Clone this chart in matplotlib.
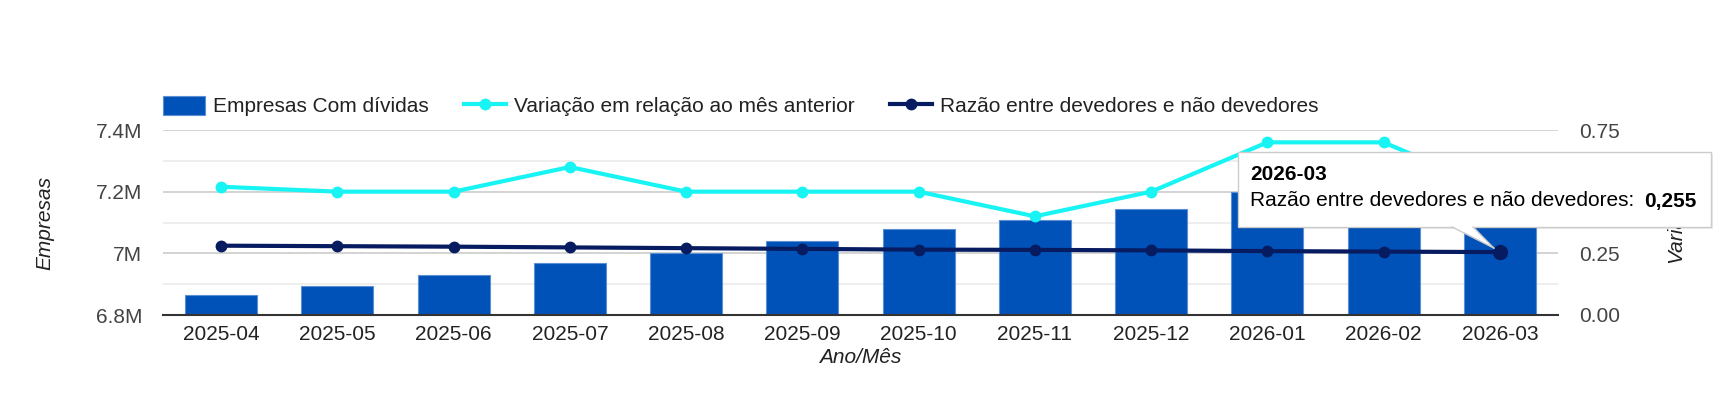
import numpy as np
import matplotlib
matplotlib.use('Agg')
import matplotlib.pyplot as plt
from matplotlib.patches import Patch, Rectangle, Polygon
from matplotlib.lines import Line2D
from matplotlib.ticker import FuncFormatter

plt.rcParams['font.family'] = ['Liberation Sans', 'DejaVu Sans']

# donnees
meses = ['2025-04', '2025-05', '2025-06', '2025-07', '2025-08', '2025-09',
         '2025-10', '2025-11', '2025-12', '2026-01', '2026-02', '2026-03']
empresas_com_dividas = [6865000, 6894000, 6929000, 6968000, 7002000, 7041000,
                        7079000, 7108000, 7144000, 7198000, 7235000, 7270000]
variacao = [0.52, 0.50, 0.50, 0.60, 0.50, 0.50, 0.50, 0.40, 0.50, 0.70, 0.70, 0.50]
razao = [0.281, 0.279, 0.277, 0.274, 0.271, 0.268, 0.265, 0.264, 0.262, 0.259, 0.257, 0.255]

cor_barra = '#0052b8'
cor_ciano = '#18f4f4'
cor_marinho = '#071c60'
fs = 15

W, H = 1729, 401
fig = plt.figure(figsize=(W / 100, H / 100), dpi=100)
ax = fig.add_axes([163 / W, 1 - 315 / H, 1395 / W, 185 / H])
ax2 = ax.twinx()

x = np.arange(len(meses))

# barres
ax.bar(x, empresas_com_dividas, width=0.62, color=cor_barra, edgecolor='#5d8fd4', linewidth=0.8, zorder=2)
ax.set_xlim(-0.5, len(meses) - 0.5)
ax.set_ylim(6.8e6, 7.4e6)
ax.set_yticks([6.8e6, 7.0e6, 7.2e6, 7.4e6])
ax.set_yticks([6.9e6, 7.1e6, 7.3e6], minor=True)
ax.yaxis.set_major_formatter(FuncFormatter(lambda v, p: ('%.1fM' % (v / 1e6)).replace('.0M', 'M')))
ax.grid(axis='y', which='major', color='#cccccc', linewidth=1.2)
ax.grid(axis='y', which='minor', color='#ebebeb', linewidth=1.2)
ax.set_axisbelow(True)
ax.set_xticks(x)
ax.set_xticklabels(meses)
ax.tick_params(axis='x', length=0, pad=7, labelsize=fs, labelcolor='#222222')
ax.tick_params(axis='y', which='both', length=0, pad=15, labelsize=fs, labelcolor='#444444')
for s in ['top', 'left', 'right']:
    ax.spines[s].set_visible(False)
ax.spines['bottom'].set_color('#333333')
ax.spines['bottom'].set_linewidth(1.5)
ax.spines['bottom'].set_zorder(3)

# lignes (axe de droite)
ax2.plot(x, variacao, color=cor_ciano, lw=3, marker='o', ms=7.5, zorder=3)
ax2.plot(x, razao, color=cor_marinho, lw=3, marker='o', ms=7.5, zorder=4)
ax2.plot(x[-1], razao[-1], marker='o', ms=10, color=cor_marinho, zorder=5)
ax2.set_ylim(0, 0.75)
ax2.set_yticks([0, 0.25, 0.5, 0.75])
ax2.yaxis.set_major_formatter(FuncFormatter(lambda v, p: '%.2f' % v))
ax2.tick_params(axis='y', length=0, pad=15, labelsize=fs, labelcolor='#444444')
for s in ['top', 'left', 'right', 'bottom']:
    ax2.spines[s].set_visible(False)

# titres des axes
ax.set_xlabel('Ano/Mês', fontsize=fs, style='italic', color='#222222')
ax.xaxis.set_label_coords(0.5, -0.232)
ax.xaxis.label.set_verticalalignment('center')
ax.set_ylabel('Empresas', fontsize=fs, style='italic', color='#222222')
ax.yaxis.set_label_coords((45 - 163) / 1395, 0.5)
ax.yaxis.label.set_verticalalignment('center')
ax2.set_ylabel('Variação', fontsize=fs, style='italic', color='#222222')
ax2.yaxis.set_label_coords((1676 - 163) / 1395, 0.5)
ax2.yaxis.label.set_verticalalignment('center')

# legende
handles = [Patch(facecolor=cor_barra, edgecolor='#5d8fd4', linewidth=0.8),
           Line2D([], [], color=cor_ciano, lw=3, marker='o', ms=7.5),
           Line2D([], [], color=cor_marinho, lw=3, marker='o', ms=7.5)]
labels = ['Empresas Com dívidas', 'Variação em relação ao mês anterior', 'Razão entre devedores e não devedores']
fig.legend(handles, labels, loc='center left', bbox_to_anchor=(163 / W, 1 - 106 / H), ncol=3,
           frameon=False, fontsize=fs, handlelength=2.0, handleheight=1.05, handletextpad=0.4,
           columnspacing=1.7, borderpad=0, borderaxespad=0, labelcolor='#222222')

# infobulle
ov = fig.add_axes([0, 0, 1, 1])
ov.set_xlim(0, W)
ov.set_ylim(H, 0)
ov.axis('off')
fig.canvas.draw()
px, py = ax2.transData.transform((x[-1], razao[-1]))
tip = (px - 6, H - py - 4)
ov.add_patch(Rectangle((1240, 154), 473, 75, facecolor='#000000', alpha=0.08, edgecolor='none', zorder=1))
ov.add_patch(Rectangle((1238, 152), 473, 75, facecolor='white', edgecolor='#cccccc', lw=1, zorder=2))
ov.add_patch(Polygon([(1452, 226.2), (1473, 226.2), tip], closed=True, facecolor='white', edgecolor='none', zorder=3))
ov.plot([1452, tip[0]], [227, tip[1]], color='#cccccc', lw=1, zorder=4)
ov.plot([1473, tip[0]], [227, tip[1]], color='#cccccc', lw=1, zorder=4)
ov.text(1250, 174, '2026-03', fontsize=fs, fontweight='bold', ha='left', va='center', color='black', zorder=5)
ov.text(1250, 201, 'Razão entre devedores e não devedores:', fontsize=fs, ha='left', va='center', color='black', zorder=5)
ov.text(1697, 201, '0,255', fontsize=fs, fontweight='bold', ha='right', va='center', color='black', zorder=5)

fig.savefig('out.png', dpi=100)
